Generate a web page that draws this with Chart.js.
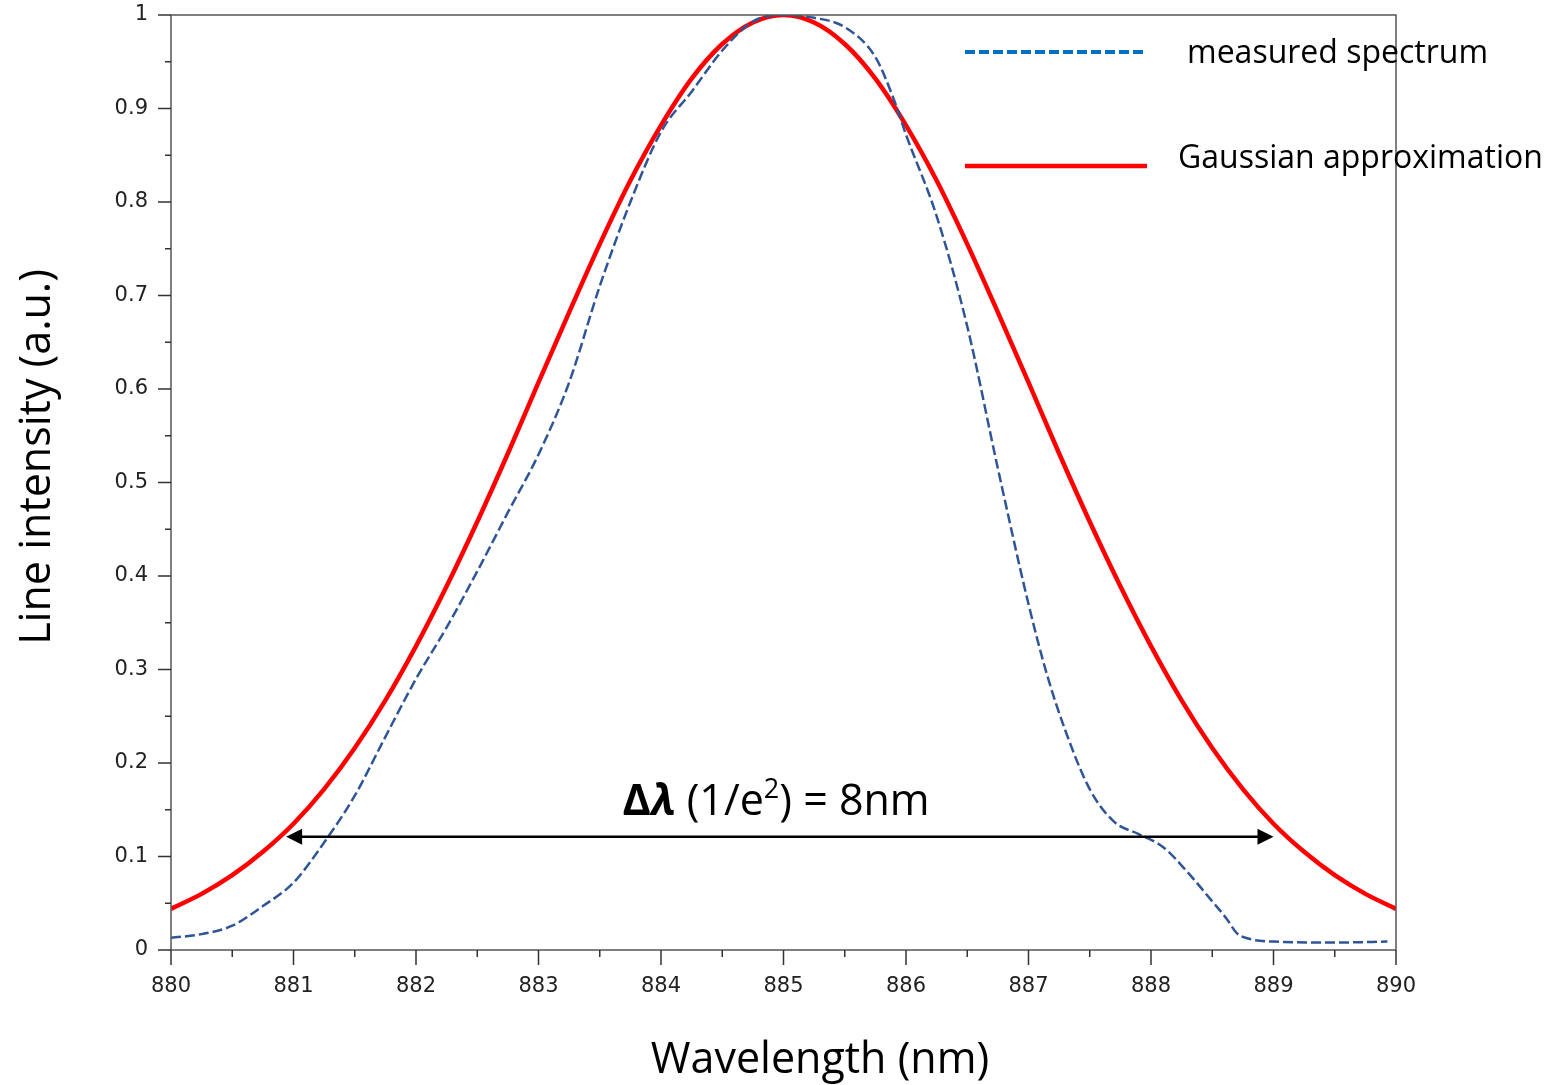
<!DOCTYPE html>
<html>
<head>
<meta charset="utf-8">
<title>Line intensity vs wavelength</title>
<script src="https://cdn.jsdelivr.net/npm/chart.js@4.4.1/dist/chart.umd.min.js"></script>
<style>
  html, body { margin: 0; padding: 0; background: #fff; }
  #wrap { width: 1549px; height: 1085px; position: relative; }
</style>
</head>
<body>
<div id="wrap"><canvas id="spectrum"></canvas></div>
<script>
// --- DATA ---
const gaussWl = [880, 880.25, 880.5, 880.75, 881, 881.25, 881.5, 881.75, 882, 882.25, 882.5, 882.75,
                 883, 883.25, 883.5, 883.75, 884, 884.25, 884.5, 884.75, 885, 885.25, 885.5, 885.75,
                 886, 886.25, 886.5, 886.75, 887, 887.25, 887.5, 887.75, 888, 888.25, 888.5, 888.75,
                 889, 889.25, 889.5, 889.75, 890];
const gaussVal = [0.044, 0.060, 0.080, 0.105, 0.135, 0.172, 0.216, 0.267, 0.325, 0.389, 0.458, 0.531,
                  0.607, 0.682, 0.755, 0.823, 0.882, 0.932, 0.969, 0.992, 1.000, 0.992, 0.969, 0.932,
                  0.882, 0.823, 0.755, 0.682, 0.607, 0.531, 0.458, 0.389, 0.325, 0.267, 0.216, 0.172,
                  0.135, 0.105, 0.080, 0.060, 0.044];

const measWl = [880, 880.25, 880.5, 880.75, 881, 881.25, 881.5, 881.75, 882, 882.25, 882.5, 882.75,
                883, 883.25, 883.5, 883.75, 884, 884.25, 884.5, 884.75, 885, 885.25, 885.5, 885.75,
                885.9, 886, 886.25, 886.5, 886.75, 887, 887.15, 887.3, 887.5, 887.7, 887.9, 888.1,
                888.3, 888.5, 888.62, 888.7, 888.8, 889, 889.5, 889.93];
const measVal = [0.013, 0.017, 0.026, 0.047, 0.072, 0.115, 0.165, 0.228, 0.290, 0.345, 0.405, 0.468,
                 0.530, 0.607, 0.710, 0.800, 0.875, 0.918, 0.962, 0.993, 1.000, 0.997, 0.987, 0.955,
                 0.910, 0.872, 0.785, 0.667, 0.515, 0.370, 0.295, 0.235, 0.172, 0.137, 0.124, 0.110,
                 0.083, 0.052, 0.033, 0.018, 0.012, 0.009, 0.008, 0.009];

const xMin = 880, xMax = 890, xStep = 0.5;
const yMin = 0, yMax = 1, yStep = 0.05;

const arrowFrom = 880.94, arrowTo = 889.0, arrowLevel = 0.121;

const FONT = "'Open Sans', 'Noto Sans', sans-serif";
const TICK_FONT = "'DejaVu Sans', sans-serif";

function pairs(xs, ys) {
    return xs.map((x, i) => ({ x: x, y: ys[i] }));
}

function isMajor(v, step) {
    return Math.abs(Math.round(v / step) * step - v) < 1e-6;
}

// no extra room for overflowing end labels, the frame sits where the layout says
function noLabelPadding(s) {
    s.paddingTop = 0;
    s.paddingBottom = 0;
    s.paddingLeft = 0;
    s.paddingRight = 0;
}

// --- custom drawing: ticks, frame, legend, arrow, titles ---
const decorPlugin = {
    id: 'decor',
    afterDraw(chart) {
        const ctx = chart.ctx;
        const area = chart.chartArea;
        const xs = chart.scales.x, ys = chart.scales.y;

        ctx.save();
        // frame
        ctx.strokeStyle = '#555';
        ctx.lineWidth = 1.5;
        ctx.strokeRect(area.left, area.top, area.right - area.left, area.bottom - area.top);

        // tick marks (outward, minor ones shorter)
        ctx.strokeStyle = '#333';
        ctx.lineWidth = 1.5;
        ctx.beginPath();
        xs.ticks.forEach(t => {
            const px = xs.getPixelForValue(t.value);
            const len = isMajor(t.value, 1) ? 15 : 7;
            ctx.moveTo(px, area.bottom);
            ctx.lineTo(px, area.bottom + len);
        });
        ys.ticks.forEach(t => {
            const py = ys.getPixelForValue(t.value);
            const len = isMajor(t.value, 0.1) ? 13 : 6;
            ctx.moveTo(area.left, py);
            ctx.lineTo(area.left - len, py);
        });
        ctx.stroke();

        // arrow for the 1/e^2 width
        const ay = ys.getPixelForValue(arrowLevel);
        const ax1 = xs.getPixelForValue(arrowFrom);
        const ax2 = xs.getPixelForValue(arrowTo);
        ctx.strokeStyle = '#000';
        ctx.fillStyle = '#000';
        ctx.lineWidth = 2.5;
        ctx.beginPath();
        ctx.moveTo(ax1 + 10, ay);
        ctx.lineTo(ax2 - 10, ay);
        ctx.stroke();
        [[ax1, 1], [ax2, -1]].forEach(([tip, dir]) => {
            ctx.beginPath();
            ctx.moveTo(tip, ay);
            ctx.lineTo(tip + dir * 16, ay - 8);
            ctx.lineTo(tip + dir * 16, ay + 8);
            ctx.closePath();
            ctx.fill();
        });

        // annotation text: Δλ (1/e²) = 8nm
        const parts = [
            { t: 'Δ', f: 'bold 43px ' + FONT, dy: 0 },
            { t: 'λ', f: 'italic bold 43px ' + FONT, dy: 0 },
            { t: ' (1/e', f: '43px ' + FONT, dy: 0 },
            { t: '2', f: '27px ' + FONT, dy: -17 },
            { t: ') = 8nm', f: '43px ' + FONT, dy: 0 }
        ];
        let total = 0;
        parts.forEach(p => { ctx.font = p.f; p.w = ctx.measureText(p.t).width; total += p.w; });
        let tx = xs.getPixelForValue(884.94) - total / 2;
        const tBase = ys.getPixelForValue(0.144);
        ctx.textBaseline = 'alphabetic';
        ctx.textAlign = 'left';
        parts.forEach(p => {
            ctx.font = p.f;
            ctx.fillText(p.t, tx, tBase + p.dy);
            tx += p.w;
        });

        // legend
        const legendItems = [
            { label: 'measured spectrum', color: '#0070C0', dash: [10, 4], width: 4, y: 52, ty: 54, tx: 1187 },
            { label: 'Gaussian approximation', color: '#FF0000', dash: [], width: 4.5, y: 166, ty: 159, tx: 1178 }
        ];
        legendItems.forEach(it => {
            ctx.strokeStyle = it.color;
            ctx.lineWidth = it.width;
            ctx.setLineDash(it.dash);
            ctx.beginPath();
            ctx.moveTo(965, it.y);
            ctx.lineTo(1147, it.y);
            ctx.stroke();
            ctx.setLineDash([]);
            ctx.fillStyle = '#000';
            ctx.font = '32px ' + FONT;
            ctx.textBaseline = 'middle';
            ctx.fillText(it.label, it.tx, it.ty);
        });

        // axis titles
        ctx.fillStyle = '#000';
        ctx.font = '43px ' + FONT;
        ctx.textAlign = 'center';
        ctx.textBaseline = 'middle';
        ctx.fillText('Wavelength (nm)', 820, 1061);
        ctx.translate(38, 457);
        ctx.rotate(-Math.PI / 2);
        ctx.fillText('Line intensity (a.u.)', 0, 0);
        ctx.restore();
    }
};

const ctx = document.getElementById('spectrum').getContext('2d');
new Chart(ctx, {
    type: 'line',
    data: {
        datasets: [
            {
                label: 'measured spectrum',
                data: pairs(measWl, measVal),
                borderColor: '#2F5597',
                borderWidth: 2.5,
                borderDash: [10, 4],
                pointRadius: 0,
                fill: false,
                cubicInterpolationMode: 'monotone'
            },
            {
                label: 'Gaussian approximation',
                data: pairs(gaussWl, gaussVal),
                borderColor: '#FF0000',
                borderWidth: 4.5,
                pointRadius: 0,
                fill: false,
                cubicInterpolationMode: 'monotone'
            }
        ]
    },
    options: {
        responsive: true,
        maintainAspectRatio: false,
        animation: false,
        layout: { padding: { top: 15, right: 153, left: 0, bottom: 0 } },
        plugins: {
            legend: { display: false },
            tooltip: { enabled: false }
        },
        scales: {
            x: {
                type: 'linear',
                min: xMin,
                max: xMax,
                afterFit: s => { s.height = 135; noLabelPadding(s); },
                grid: { display: false, drawTicks: false },
                border: { display: false },
                ticks: {
                    stepSize: xStep,
                    autoSkip: false,
                    maxRotation: 0,
                    padding: 24,
                    color: '#222',
                    font: { family: TICK_FONT, size: 21 },
                    callback: v => isMajor(v, 1) ? String(Math.round(v)) : ''
                }
            },
            y: {
                min: yMin,
                max: yMax,
                afterFit: s => { s.width = 171; noLabelPadding(s); },
                grid: { display: false, drawTicks: false },
                border: { display: false },
                ticks: {
                    stepSize: yStep,
                    autoSkip: false,
                    padding: 23,
                    color: '#222',
                    font: { family: TICK_FONT, size: 21 },
                    callback: v => isMajor(v, 0.1) ? String(Math.round(v * 10) / 10) : ''
                }
            }
        }
    },
    plugins: [decorPlugin]
});
</script>
</body>
</html>
